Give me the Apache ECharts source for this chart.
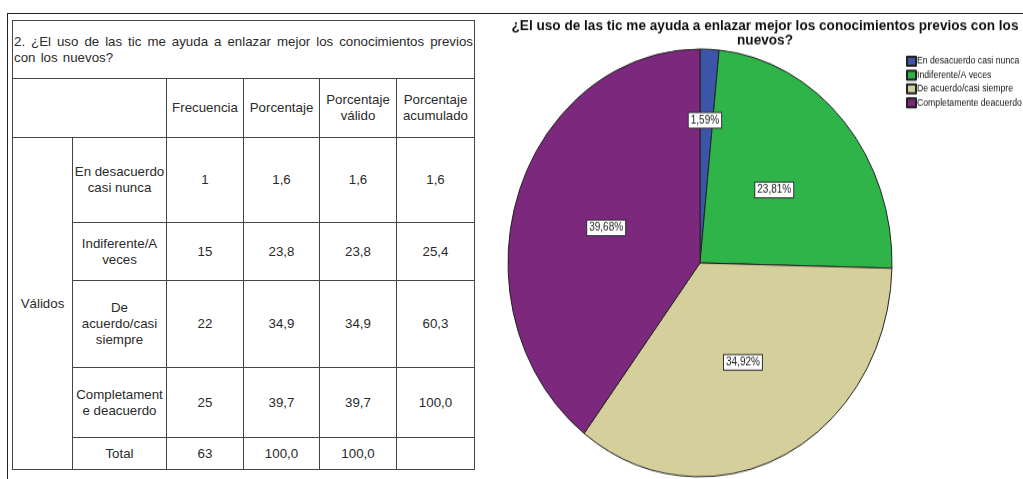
<!DOCTYPE html>
<html>
<head>
<meta charset="utf-8">
<script src="https://cdn.jsdelivr.net/npm/echarts@6/dist/echarts.min.js"></script>
<style>
  html, body { margin: 0; padding: 0; background: #fff; }
  body { width: 1023px; height: 479px; position: relative; overflow: hidden; font-family: "Liberation Sans", Arial, sans-serif; }
  .frame-top { position: absolute; left: 7px; top: 13px; width: 1016px; height: 0; border-top: 1px solid #222; }
  .frame-left { position: absolute; left: 7px; top: 13px; width: 0; height: 466px; border-left: 1px solid #222; }
  table.freq { position: absolute; left: 12px; top: 20px; border-collapse: collapse; table-layout: fixed; font-size: 13.3px; color: #2a2a2a; }
  table.freq td { border: 1px solid #444; text-align: center; vertical-align: middle; padding: 0; line-height: 16px; }
  table.freq td.q { text-align: justify; text-align-last: left; padding: 0 1px; word-spacing: 1.5px; }
  #pie { position: absolute; left: 497px; top: 0; width: 536px; height: 430px; transform: scaleY(1.114); transform-origin: 0 0; }
</style>
</head>
<body>
<div class="frame-top"></div>
<div class="frame-left"></div>
<table class="freq" id="tbl"></table>
<div id="pie"></div>
<script>
// datos de la tabla de frecuencias
const pregunta = "2. ¿El uso de las tic me ayuda a enlazar mejor los conocimientos previos con los nuevos?";
const encabezados = ["Frecuencia", "Porcentaje", "Porcentaje<br>válido", "Porcentaje<br>acumulado"];
const categoriasTabla = ["En desacuerdo<br>casi nunca", "Indiferente/A<br>veces", "De<br>acuerdo/casi<br>siempre", "Completament<br>e deacuerdo"];
const frecuencia = [1, 15, 22, 25];
const porcentaje = ["1,6", "23,8", "34,9", "39,7"];
const porcentajeValido = ["1,6", "23,8", "34,9", "39,7"];
const porcentajeAcumulado = ["1,6", "25,4", "60,3", "100,0"];
const totalFila = ["Total", "63", "100,0", "100,0", ""];

// datos del gráfico
const tituloGrafico = "¿El uso de las tic me ayuda a enlazar mejor los conocimientos previos con los\nnuevos?";
const categorias = ["En desacuerdo casi nunca", "Indiferente/A veces", "De acuerdo/casi siempre", "Completamente deacuerdo"];
const colores = ["#3c55a8", "#2fb44a", "#d5d09b", "#7c287d"];

const colW = [60, 94, 77, 76, 77, 78];
const rowH = [85, 58, 87, 70];

let html = '<colgroup>' + colW.map(w => '<col style="width:' + w + 'px">').join('') + '</colgroup>';
html += '<tr style="height:58px"><td class="q" colspan="6">' + pregunta + '</td></tr>';
html += '<tr style="height:59px"><td colspan="2"></td>' + encabezados.map(h => '<td>' + h + '</td>').join('') + '</tr>';
categoriasTabla.forEach((c, i) => {
  html += '<tr style="height:' + rowH[i] + 'px">';
  if (i === 0) html += '<td rowspan="5">Válidos</td>';
  html += '<td>' + c + '</td><td>' + frecuencia[i] + '</td><td>' + porcentaje[i] + '</td><td>' +
    porcentajeValido[i] + '</td><td>' + porcentajeAcumulado[i] + '</td></tr>';
});
html += '<tr style="height:32px">' + totalFila.map(t => '<td>' + t + '</td>').join('') + '</tr>';
document.getElementById('tbl').innerHTML = html;

const total = frecuencia.reduce((a, b) => a + b, 0);
const chart = echarts.init(document.getElementById('pie'));
chart.setOption({
  animation: false,
  title: {
    text: tituloGrafico,
    left: 'center',
    top: 12,
    textStyle: { fontSize: 13.6, fontWeight: 'bold', color: '#111', lineHeight: 12.6, fontFamily: 'Liberation Sans', align: 'center' }
  },
  legend: {
    orient: 'vertical',
    left: 404,
    top: 45,
    icon: 'rect',
    itemWidth: 9,
    itemHeight: 8,
    itemGap: 2.4,
    textStyle: { fontSize: 8.7, color: '#111', fontFamily: 'Liberation Sans', padding: [0, 0, 0, -4] },
    data: categorias
  },
  series: [{
    type: 'pie',
    center: [203, 236],
    radius: 192,
    startAngle: 90,
    clockwise: true,
    color: colores,
    itemStyle: { borderColor: '#222', borderWidth: 1 },
    label: {
      position: 'inside',
      fontSize: 10,
      color: '#222',
      backgroundColor: '#fff',
      borderColor: '#333',
      borderWidth: 1,
      padding: [2, 2, 1, 2],
      fontFamily: 'Liberation Sans',
      formatter: p => (p.value / total * 100).toFixed(2).replace('.', ',') + '%'
    },
    labelLine: { show: false },
    emphasis: { disabled: true },
    data: categorias.map((n, i) => ({
      name: n,
      value: frecuencia[i],
      label: i === 0 ? { offset: [0, -29] } : undefined
    }))
  }]
});
</script>
</body>
</html>
